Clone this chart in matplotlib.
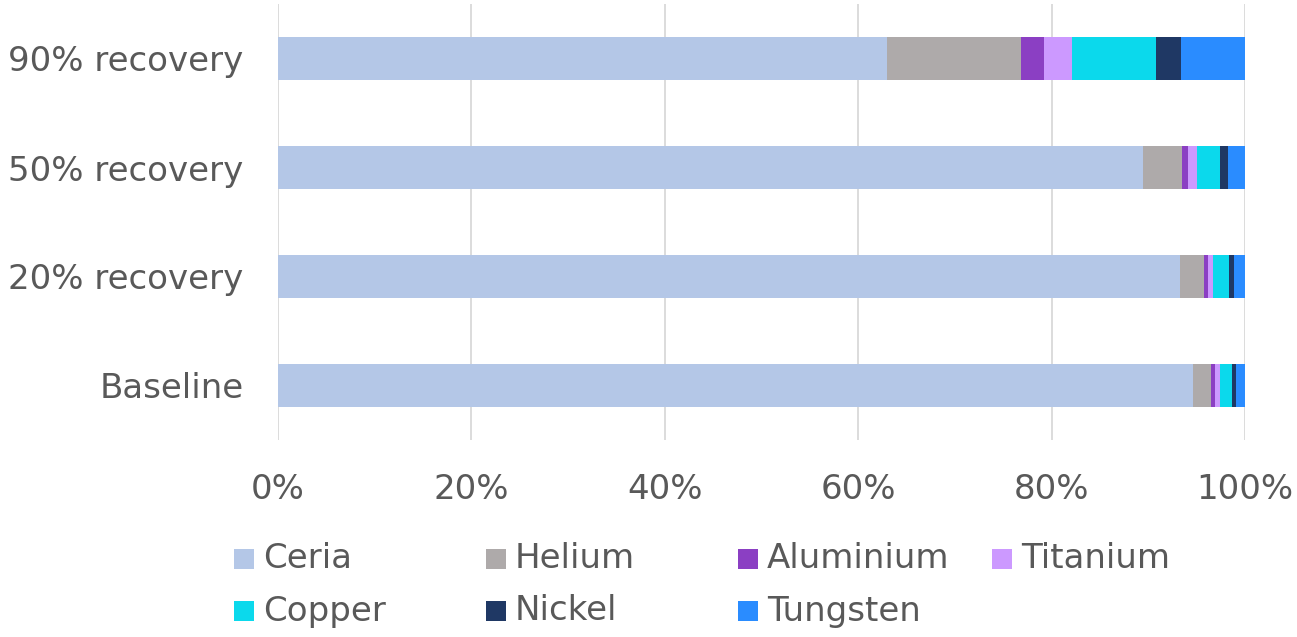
import matplotlib.pyplot as plt
from matplotlib.patches import Rectangle

plt.rcParams['font.family'] = ['DejaVu Sans']

scenarios = ["Baseline", "20% recovery", "50% recovery", "90% recovery"]
materials = ["Ceria", "Helium", "Aluminium", "Titanium", "Copper", "Nickel", "Tungsten"]
ceria = [94.6, 93.3, 89.5, 63.0]
helium = [1.9, 2.5, 4.0, 13.8]
aluminium = [0.4, 0.4, 0.6, 2.4]
titanium = [0.5, 0.5, 0.9, 2.9]
copper = [1.3, 1.6, 2.4, 8.7]
nickel = [0.4, 0.6, 0.8, 2.6]
tungsten = [0.9, 1.1, 1.8, 6.6]
colors = ["#B4C7E7", "#AEAAAA", "#8B3FC3", "#CC99FF", "#0BD9EC", "#1F3864", "#2A8CFF"]

series = [ceria, helium, aluminium, titanium, copper, nickel, tungsten]
text_col = "#595959"
fs = 24.5

W, H = 1297, 637
fig = plt.figure(figsize=(W/100, H/100), dpi=100)
ax = fig.add_axes([278/W, 1-440/H, (1245-278)/W, 436/H])

left = [0]*len(scenarios)
for vals, col in zip(series, colors):
    ax.barh(range(len(scenarios)), vals, left=left, height=0.4, color=col, zorder=3)
    left = [l + v for l, v in zip(left, vals)]

ax.set_xlim(0, 100)
ax.set_ylim(-0.5, 3.5)
ax.set_yticks(range(len(scenarios)))
ax.set_yticklabels(scenarios)
ax.set_xticks([0, 20, 40, 60, 80, 100])
ax.set_xticklabels(["0%", "20%", "40%", "60%", "80%", "100%"])
ax.tick_params(axis='both', length=0, labelsize=fs, colors=text_col)
ax.tick_params(axis='y', pad=25)
ax.tick_params(axis='x', pad=24)
ax.grid(axis='x', color="#D9D9D9", linewidth=1.3, zorder=0)
for s in ax.spines.values():
    s.set_visible(False)

# legend laid out by hand: equal-width columns, filled row by row
col_x = [234, 486, 738, 992]
row_y = [559, 611]
for i, (name, c) in enumerate(zip(materials, colors)):
    x = col_x[i % 4]
    y = row_y[i // 4]
    fig.patches.append(Rectangle((x/W, 1-(y+10)/H), 20/W, 20/H, facecolor=c,
                                 edgecolor='none', transform=fig.transFigure))
    fig.text((x+29)/W, 1-y/H, name, fontsize=fs, color=text_col, va='center', ha='left')

fig.savefig("out.png", dpi=100)
